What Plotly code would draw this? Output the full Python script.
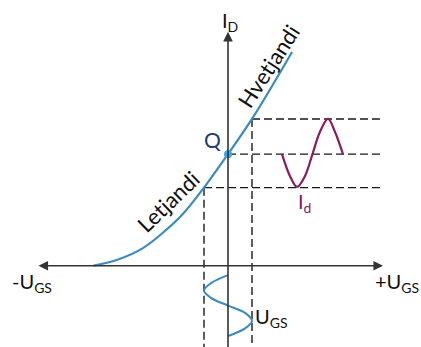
import plotly.graph_objects as go

# Transfer characteristic I_D = f(U_GS), Q point at U_GS = 0
ugs_curve = [-5.60, -4.58, -3.58, -2.75, -1.92, -1.0, 0.0, 1.0, 2.67]
id_curve = [0.0, 0.185, 0.51, 0.96, 1.51, 2.33, 3.33, 4.38, 6.38]
q_index = 6
low_index = 5
high_index = 7

# Output current signal I_d (drawn to the right, time along x)
id_wave_t = [2.25, 2.58, 2.875, 3.21, 3.52, 3.83, 4.17, 4.46, 4.79]
id_wave_val = [3.33, 2.68, 2.35, 2.68, 3.33, 3.99, 4.38, 3.99, 3.33]

# Input voltage signal U_GS (drawn below, time downwards)
ugs_wave_val = [0.0, -0.71, -1.0, -0.71, 0.0, 0.71, 1.0, 0.71, 0.0]
ugs_wave_t = [-0.28, -0.52, -0.74, -0.96, -1.19, -1.41, -1.65, -1.87, -2.10]

# Labels
lbl_id_axis = "I<sub>D</sub>"
lbl_neg = "-U<sub>GS</sub>"
lbl_pos = "+U<sub>GS</sub>"
lbl_ugs = "U<sub>GS</sub>"
lbl_idsig = "I<sub>d</sub>"
lbl_q = "Q"
lbl_hi = "Hvetjandi"
lbl_lo = "Letjandi"

X_RANGE = [-9.5, 8.042]
Y_RANGE = [-2.427, 7.931]
GUIDE_END = 6.33
AX_LEFT, AX_RIGHT = -7.96, 6.46
AX_TOP, AX_BOTTOM = 6.98, -2.6

BLUE = "#3a8cbf"
PURPLE = "#8a1c5c"
AXC = "#333333"
FONT = "Lato"

fig = go.Figure()

# dashed guide lines
dash = dict(color="#1a1a1a", width=1.4, dash="8px,4px")
for i in (high_index, q_index, low_index):
    fig.add_trace(go.Scatter(x=[ugs_curve[i], GUIDE_END], y=[id_curve[i], id_curve[i]],
                             mode="lines", line=dash, hoverinfo="skip", showlegend=False))
for i in (low_index, high_index):
    fig.add_trace(go.Scatter(x=[ugs_curve[i], ugs_curve[i]], y=[id_curve[i], AX_BOTTOM],
                             mode="lines", line=dash, hoverinfo="skip", showlegend=False))

# axes with arrows
fig.add_annotation(x=AX_RIGHT, y=0, ax=AX_LEFT, ay=0, xref="x", yref="y", axref="x", ayref="y",
                   text="", showarrow=True, arrowhead=2, arrowsize=1.2, arrowwidth=1.6,
                   arrowside="end+start", arrowcolor=AXC)
fig.add_annotation(x=0, y=AX_TOP, ax=0, ay=AX_BOTTOM, xref="x", yref="y", axref="x", ayref="y",
                   text="", showarrow=True, arrowhead=2, arrowsize=1.2, arrowwidth=1.6,
                   arrowcolor=AXC)

# transfer curve
fig.add_trace(go.Scatter(x=ugs_curve, y=id_curve, mode="lines",
                         line=dict(color=BLUE, width=2.2, shape="spline", smoothing=1.0),
                         hoverinfo="skip", showlegend=False))
# input signal
fig.add_trace(go.Scatter(x=ugs_wave_val, y=ugs_wave_t, mode="lines",
                         line=dict(color=BLUE, width=2, shape="spline", smoothing=1.0),
                         hoverinfo="skip", showlegend=False))
# output signal
fig.add_trace(go.Scatter(x=id_wave_t, y=id_wave_val, mode="lines",
                         line=dict(color=PURPLE, width=2.2, shape="spline", smoothing=1.0),
                         hoverinfo="skip", showlegend=False))
# Q point
fig.add_trace(go.Scatter(x=[ugs_curve[q_index]], y=[id_curve[q_index]], mode="markers",
                         marker=dict(color="#3aa6e0", size=8), hoverinfo="skip", showlegend=False))

def label(text, x, y, color="#111111", size=20, angle=0):
    fig.add_annotation(x=x, y=y, xref="x", yref="y", text=text, showarrow=False,
                       font=dict(family=FONT, size=size, color=color), textangle=angle,
                       xanchor="center", yanchor="middle")

label(lbl_id_axis, 0.07, 7.3)
label(lbl_neg, -8.15, -0.5)
label(lbl_pos, 7.05, -0.5)
label(lbl_ugs, 1.8, -1.55)
label(lbl_q, -0.65, 3.77, color="#1f3a68", size=21)
label(lbl_idsig, 3.2, 1.9, color=PURPLE)
label(lbl_hi, 1.67, 5.95, angle=-57, size=22)
label(lbl_lo, -2.5, 1.92, angle=-44, size=22)

fig.update_layout(width=421, height=347, margin=dict(l=0, r=0, t=0, b=0, pad=0),
                  paper_bgcolor="white", plot_bgcolor="white",
                  xaxis=dict(range=X_RANGE, visible=False, fixedrange=True),
                  yaxis=dict(range=Y_RANGE, visible=False, fixedrange=True))

fig.write_html("out.html", config={"displayModeBar": False},
               post_script="document.body.style.margin='0';")
